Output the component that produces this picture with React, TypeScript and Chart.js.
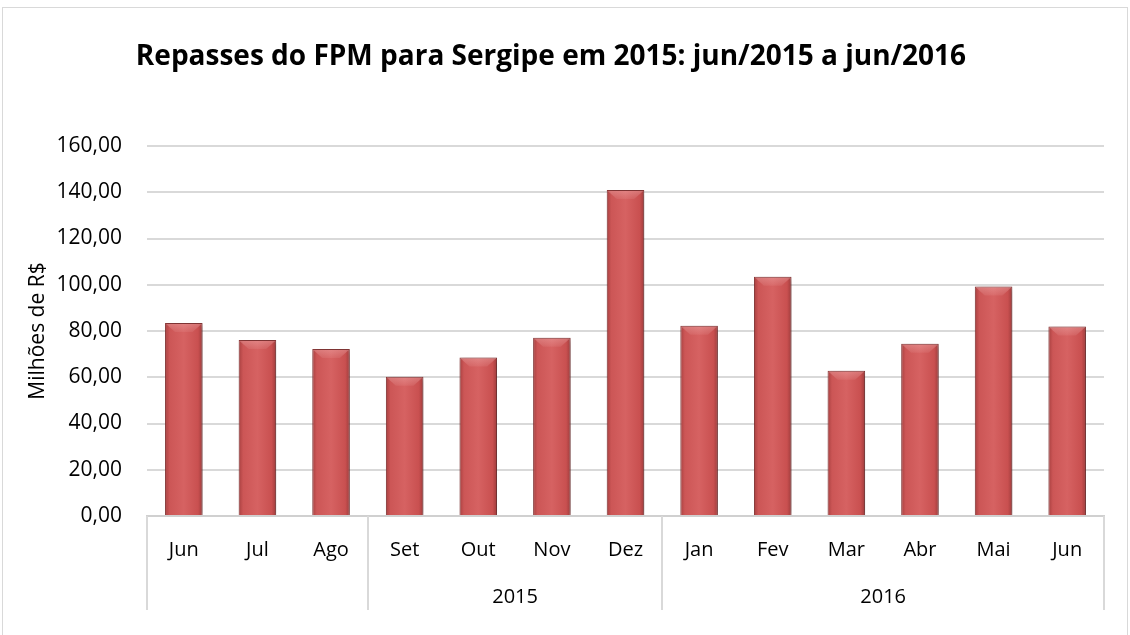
import { useEffect, useRef } from 'react';
import { Chart, registerables } from 'chart.js';

Chart.register(...registerables);

const chartTitle = 'Repasses do FPM para Sergipe em 2015: jun/2015 a jun/2016';
const yAxisTitle = 'Milhões de R$';
const months = ['Jun', 'Jul', 'Ago', 'Set', 'Out', 'Nov', 'Dez', 'Jan', 'Fev', 'Mar', 'Abr', 'Mai', 'Jun'];
const values = [83.5, 76.1, 72.2, 60.2, 68.5, 77.1, 141.0, 82.3, 103.5, 62.8, 74.5, 99.2, 81.9];
const yearLabels = ['', '2015', '2016'];
const yearStarts = [0, 3, 7];
const yearEnds = [2, 6, 12];
const yMin = 0;
const yMax = 160;
const yStep = 20;

const FONT = '"Open Sans", "Noto Sans", sans-serif';
const BAR_PCT = 0.51;

function fmt(v: number) {
  return v.toFixed(2).replace('.', ',');
}

const decorPlugin = {
  id: 'decor',
  beforeDraw(chart: any) {
    const { ctx, width, height } = chart;
    ctx.save();
    ctx.fillStyle = '#ffffff';
    ctx.fillRect(0, 0, width, height);
    ctx.strokeStyle = '#d9d9d9';
    ctx.lineWidth = 1;
    ctx.strokeRect(2.5, 7.5, width - 5, height + 20);
    ctx.fillStyle = '#000000';
    ctx.font = `bold 28px ${FONT}`;
    ctx.textAlign = 'center';
    ctx.textBaseline = 'middle';
    ctx.fillText(chartTitle, 551, 57);
    ctx.restore();
  },
  beforeDatasetsDraw(chart: any) {
    const { ctx } = chart;
    ctx.save();
    ctx.shadowColor = 'rgba(0,0,0,0.35)';
    ctx.shadowBlur = 6;
    ctx.shadowOffsetX = 2;
    ctx.shadowOffsetY = 1;
  },
  afterDatasetsDraw(chart: any) {
    const { ctx } = chart;
    ctx.restore();
    const meta = chart.getDatasetMeta(0);
    ctx.save();
    meta.data.forEach((bar: any) => {
      const { x, y, width } = bar.getProps(['x', 'y', 'width'], true);
      const l = x - width / 2 + 1;
      const r = x + width / 2 - 1;
      const b = 9;
      const g = ctx.createLinearGradient(0, y, 0, y + b);
      g.addColorStop(0, 'rgba(255,215,215,0.30)');
      g.addColorStop(1, 'rgba(255,215,215,0.08)');
      ctx.beginPath();
      ctx.moveTo(l, y + 1);
      ctx.lineTo(r, y + 1);
      ctx.lineTo(r - b, y + b);
      ctx.lineTo(l + b, y + b);
      ctx.closePath();
      ctx.fillStyle = g;
      ctx.fill();
    });
    ctx.restore();
  },
  afterDraw(chart: any) {
    const { ctx } = chart;
    const xs = chart.scales.x;
    const top = xs.top;
    const sepBottom = 610;
    ctx.save();
    ctx.strokeStyle = '#d9d9d9';
    ctx.lineWidth = 2;
    const bounds: number[] = [];
    yearStarts.forEach((s, i) => {
      const left = s === 0 ? xs.left : (xs.getPixelForValue(s - 1) + xs.getPixelForValue(s)) / 2;
      const e = yearEnds[i];
      const right = e === months.length - 1 ? xs.right : (xs.getPixelForValue(e) + xs.getPixelForValue(e + 1)) / 2;
      bounds.push(left);
      if (i === yearStarts.length - 1) bounds.push(right);
      ctx.fillStyle = '#000000';
      ctx.font = `20px ${FONT}`;
      ctx.textAlign = 'center';
      ctx.textBaseline = 'middle';
      if (yearLabels[i]) ctx.fillText(yearLabels[i], (left + right) / 2, 597);
    });
    bounds.forEach((bx) => {
      const px = Math.round(bx);
      ctx.beginPath();
      ctx.moveTo(px, top);
      ctx.lineTo(px, sepBottom);
      ctx.stroke();
    });
    ctx.restore();
  },
};

export default function App() {
  const canvasRef = useRef<HTMLCanvasElement | null>(null);

  useEffect(() => {
    if (!canvasRef.current) return;
    const chart = new Chart(canvasRef.current, {
      type: 'bar',
      data: {
        labels: months,
        datasets: [
          {
            data: values,
            backgroundColor: (c: any) => {
              const ch = c.chart;
              if (!ch.chartArea || c.type !== 'data') return '#cf5656';
              const xs = ch.scales.x;
              const cx = xs.getPixelForValue(c.dataIndex);
              const w = (xs.width / months.length) * BAR_PCT;
              const g = ch.ctx.createLinearGradient(cx - w / 2, 0, cx + w / 2, 0);
              g.addColorStop(0, '#a84040');
              g.addColorStop(0.12, '#cc5656');
              g.addColorStop(0.5, '#d66262');
              g.addColorStop(0.88, '#c95050');
              g.addColorStop(1, '#9e3c3c');
              return g;
            },
            borderColor: '#8e3a3a',
            borderWidth: 1,
            categoryPercentage: 1,
            barPercentage: BAR_PCT,
          },
        ],
      },
      options: {
        animation: false,
        responsive: false,
        maintainAspectRatio: false,
        layout: { padding: { top: 146, right: 26, left: 0, bottom: 0 } },
        plugins: {
          legend: { display: false },
          title: { display: false },
          tooltip: { enabled: false },
        },
        scales: {
          x: {
            grid: { display: false, drawTicks: false },
            border: { display: true, color: '#d0d0d0', width: 2 },
            ticks: { color: '#000', font: { family: FONT, size: 20 }, padding: 22 },
            afterFit: (s: any) => {
              s.height = 119;
            },
          },
          y: {
            min: yMin,
            max: yMax,
            ticks: {
              stepSize: yStep,
              color: '#000',
              font: { family: FONT, size: 21 },
              padding: 25,
              callback: (v: any) => fmt(Number(v)),
            },
            grid: { color: '#d9d9d9', lineWidth: 2, drawTicks: false },
            border: { display: false },
            title: {
              display: true,
              text: yAxisTitle,
              color: '#000',
              font: { family: FONT, size: 21 },
              padding: { top: 25, bottom: 0 },
            },
            afterFit: (s: any) => {
              s.width = 147;
            },
          },
        },
      },
      plugins: [decorPlugin],
    });
    return () => chart.destroy();
  }, []);

  return (
    <div style={{ position: 'absolute', left: 0, top: 0, width: 1130, height: 635 }}>
      <canvas ref={canvasRef} width={1130} height={635} style={{ display: 'block' }} />
    </div>
  );
}
